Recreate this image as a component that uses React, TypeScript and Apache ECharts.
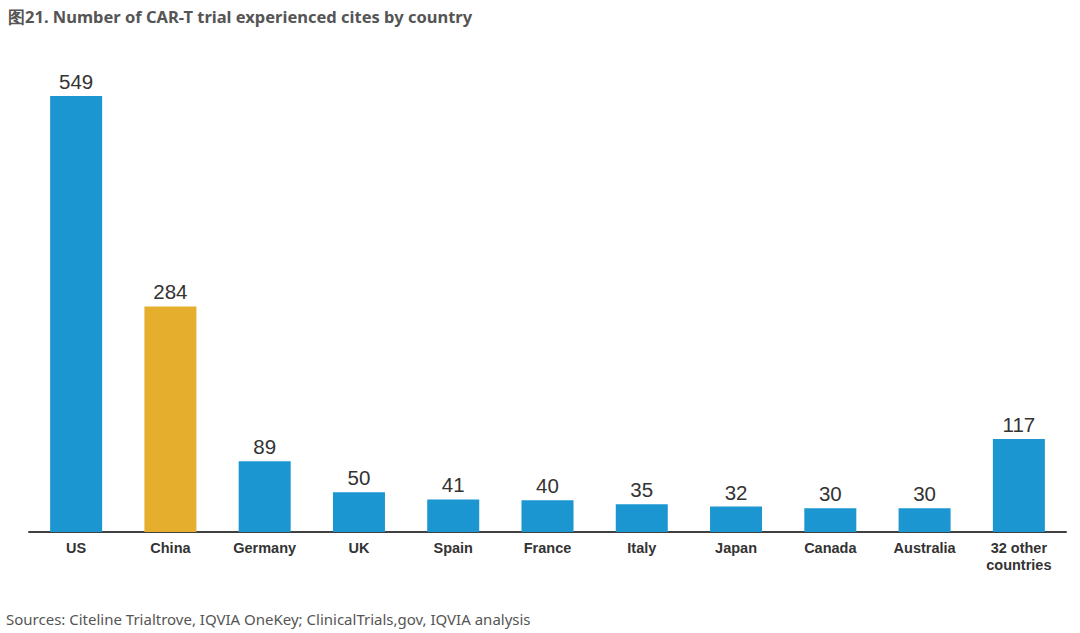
import React, { useEffect, useRef } from "react";
import * as echarts from "echarts";

const categories = ["US", "China", "Germany", "UK", "Spain", "France", "Italy", "Japan", "Canada", "Australia", "32 other\ncountries"];
const values = [549, 284, 89, 50, 41, 40, 35, 32, 30, 30, 117];
const highlightIndex = 1;
const titleText = "图21. Number of CAR-T trial experienced cites by country";
const sourceText = "Sources: Citeline Trialtrove, IQVIA OneKey; ClinicalTrials,gov, IQVIA analysis";

export default function App() {
  const ref = useRef<HTMLDivElement>(null);
  useEffect(() => {
    const chart = echarts.init(ref.current!, null, { renderer: "svg" });
    chart.setOption({
      animation: false,
      backgroundColor: "#ffffff",
      title: {
        text: titleText,
        left: 3,
        top: 3,
        textStyle: { fontFamily: "Noto Sans", fontSize: 16.5, fontWeight: "bold", color: "#555555" },
      },
      graphic: [
        {
          type: "text",
          left: 6,
          top: 611,
          style: { text: sourceText, fontFamily: "Noto Sans", fontSize: 15, fill: "#555555" },
        },
      ],
      grid: { left: 29, right: 14, top: 55.5, height: 476.5 },
      xAxis: {
        type: "category",
        data: categories,
        axisLine: { lineStyle: { color: "#404040", width: 2 } },
        axisTick: { show: false },
        axisLabel: {
          interval: 0,
          fontFamily: "Liberation Sans",
          fontSize: 14.5,
          fontWeight: "bold",
          color: "#333333",
          margin: 7,
          lineHeight: 17,
        },
      },
      yAxis: {
        type: "value",
        min: 0,
        max: 600,
        show: false,
        splitLine: { show: false },
      },
      series: [
        {
          type: "bar",
          barWidth: 52,
          data: values.map((v, i) => ({
            value: v,
            itemStyle: { color: i === highlightIndex ? "#E5AE2D" : "#1B96D1" },
          })),
          label: {
            show: true,
            position: "top",
            distance: 4,
            fontFamily: "Liberation Sans",
            fontSize: 20.5,
            color: "#333333",
          },
        },
      ],
    });
    return () => chart.dispose();
  }, []);
  return <div ref={ref} style={{ position: "fixed", left: 0, top: 0, width: 1080, height: 633 }} />;
}
